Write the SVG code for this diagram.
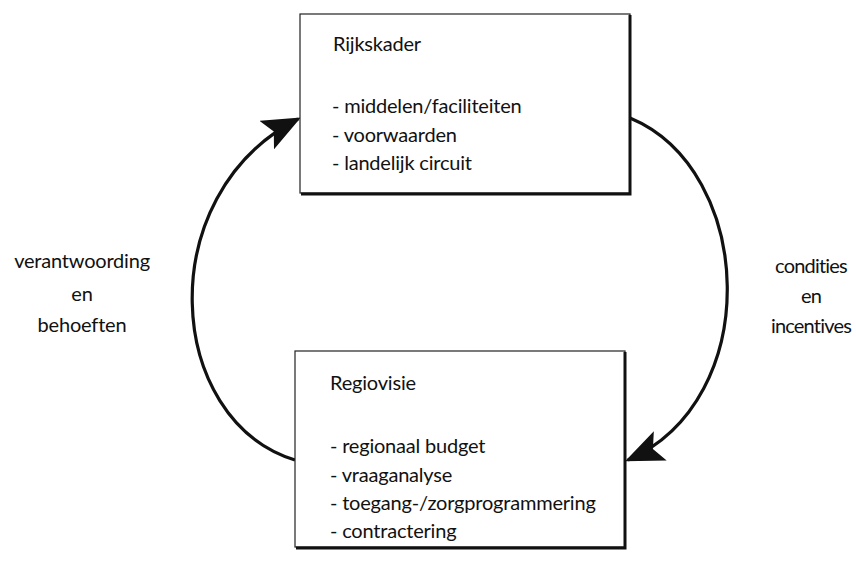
<svg xmlns="http://www.w3.org/2000/svg" width="856" height="566" viewBox="0 0 856 566">
<defs>
<style>
text{font-family:Lato,"Open Sans","Liberation Sans",sans-serif;font-size:20px;letter-spacing:-0.2px;fill:#111}
.box{fill:#fff;stroke:#222;stroke-width:1.2}
.sh{stroke:#111;stroke-width:3;fill:none}
.arc{fill:none;stroke:#111;stroke-width:3.2}
.lbl{text-anchor:middle}
.nar{letter-spacing:-0.8px}
</style>
<marker id="ah" markerWidth="12" markerHeight="10" refX="11" refY="5" orient="auto" markerUnits="strokeWidth">
<path d="M0,0 L12,5 L0,10 L2.5,5 Z" fill="#111"/>
</marker>
</defs>
<g id="connectors">
<path class="arc" d="M295,460 C165,420 150,195 298,119" marker-end="url(#ah)"/>
<path class="arc" d="M630,118 C755,170 765,400 628,460" marker-end="url(#ah)"/>
</g>
<g id="rijkskader">
<rect class="box" x="300" y="14" width="330" height="179"/>
<path class="sh" d="M630,15 V194 H301"/>
<text x="333" y="51">Rijkskader</text>
<text x="332" y="113">- middelen/faciliteiten</text>
<text x="332" y="142">- voorwaarden</text>
<text x="332" y="170">- landelijk circuit</text>
</g>
<g id="regiovisie">
<rect class="box" x="295" y="351" width="330" height="196"/>
<path class="sh" d="M625,352 V548 H296"/>
<text x="330" y="390">Regiovisie</text>
<text x="330" y="453">- regionaal budget</text>
<text x="330" y="482">- vraaganalyse</text>
<text x="330" y="510">- toegang-/zorgprogrammering</text>
<text x="330" y="538">- contractering</text>
</g>
<g id="label-left">
<text class="lbl" x="82" y="268">verantwoording</text>
<text class="lbl" x="82" y="301">en</text>
<text class="lbl" x="82" y="332">behoeften</text>
</g>
<g id="label-right">
<text class="lbl nar" x="811" y="273">condities</text>
<text class="lbl nar" x="811" y="303">en</text>
<text class="lbl nar" x="811" y="333">incentives</text>
</g>
</svg>
